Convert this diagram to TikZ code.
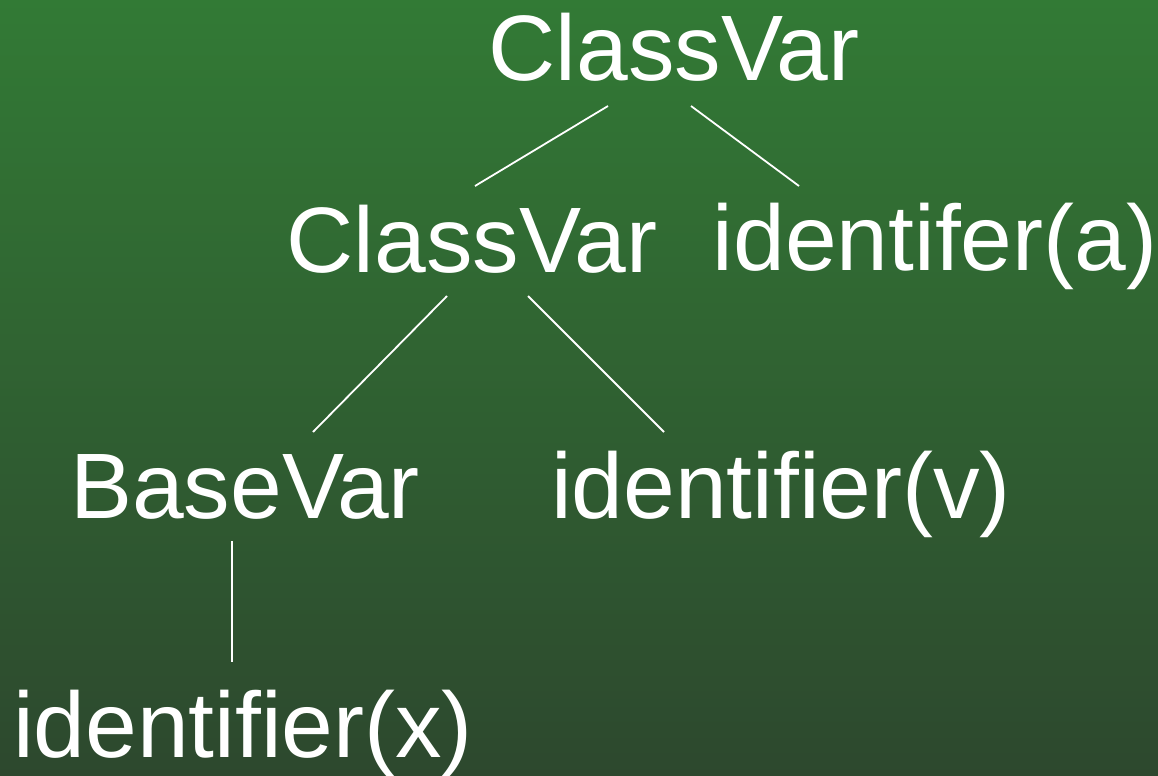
\documentclass[tikz,border=0pt]{standalone}
\usepackage{fontspec}
\setmainfont{Liberation Sans}
\usetikzlibrary{calc}

\definecolor{bgtop}{RGB}{50,122,53}
\definecolor{bgbot}{RGB}{45,72,46}

\begin{document}
\begin{tikzpicture}[x=0.5pt, y=-0.5pt,
    every node/.style={text=white, inner sep=0pt, anchor=base,
      font=\fontsize{46.5}{50}\selectfont},
    edge/.style={draw=white, line width=0.9pt}]
    % Background
    \shade[top color=bgtop, bottom color=bgbot] (0,0) rectangle (1158,776);
    \useasboundingbox (0,0) rectangle (1158,776);

    % Tree nodes
    \node (top)  at (674,80)  {ClassVar};
    \node (mid)  at (472,272) {ClassVar};
    \node (ida)  at (935,270) {identifer(a)};
    \node (base) at (245,518) {BaseVar};
    \node (idv)  at (781,518) {identifier(v)};
    \node (idx)  at (243,757) {identifier(x)};

    % Connectors
    \draw[edge] ([shift={(-66,26)}]top.base) -- ([shift={(3,-86)}]mid.base);
    \draw[edge] ([shift={(17,26)}]top.base) -- ([shift={(-136,-84)}]ida.base);
    \draw[edge] ([shift={(-25,24)}]mid.base) -- ([shift={(68,-86)}]base.base);
    \draw[edge] ([shift={(56,24)}]mid.base) -- ([shift={(-117,-86)}]idv.base);
    \draw[edge] ([shift={(-13,23)}]base.base) -- ([shift={(-11,-95)}]idx.base);
\end{tikzpicture}
\end{document}
